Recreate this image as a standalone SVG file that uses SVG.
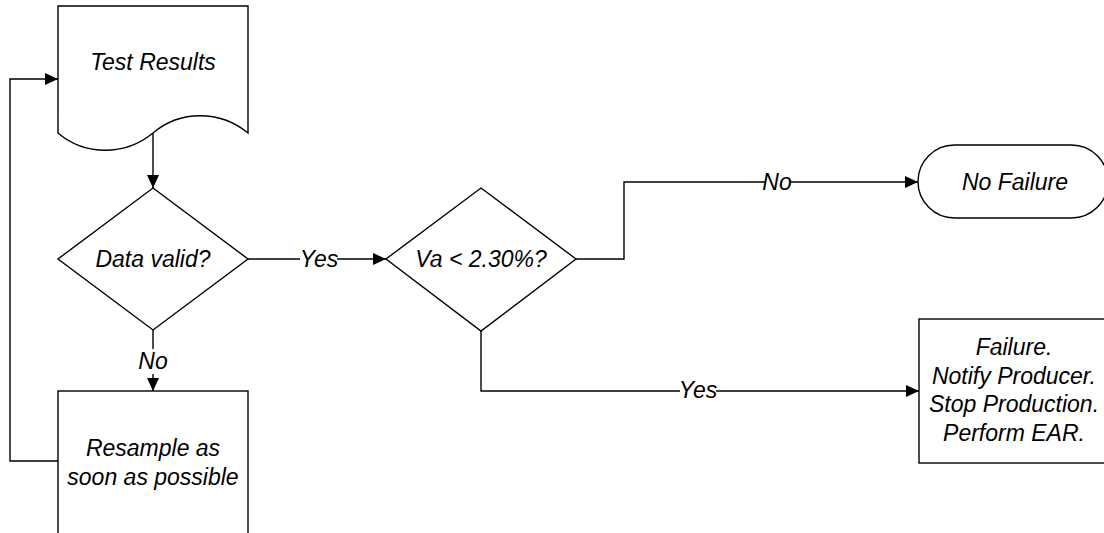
<svg xmlns="http://www.w3.org/2000/svg" width="1104" height="533" viewBox="0 0 1104 533">
<defs>
<marker id="arr" markerUnits="userSpaceOnUse" markerWidth="14" markerHeight="12" refX="13" refY="6" orient="auto">
<path d="M0,0 L13,6 L0,12 Z" fill="#000"/>
</marker>
<style>
.shape{fill:#fff;stroke:#000;stroke-width:1.4}
.conn{fill:none;stroke:#000;stroke-width:1.4}
text{font-family:"Liberation Sans",Arial,sans-serif;font-style:italic;font-size:23px;fill:#000;text-anchor:middle}
.lblbg{fill:#fff;stroke:none}
</style>
</defs>
<rect width="1104" height="533" fill="#fff"/>
<g id="connectors">
<path class="conn" d="M153,133 V188" marker-end="url(#arr)"/>
<path class="conn" d="M248,259 H386" marker-end="url(#arr)"/>
<path class="conn" d="M153,330 V391" marker-end="url(#arr)"/>
<path class="conn" d="M58,461 H10 V79 H58" marker-end="url(#arr)"/>
<path class="conn" d="M576,259 H624 V182 H918" marker-end="url(#arr)"/>
<path class="conn" d="M481,331 V391 H919" marker-end="url(#arr)"/>
<rect class="lblbg" x="300" y="248" width="37" height="23"/>
<text x="319" y="267">Yes</text>
<rect class="lblbg" x="139" y="349" width="28" height="25"/>
<text x="153" y="369">No</text>
<rect class="lblbg" x="765" y="171" width="25" height="23"/>
<text x="777" y="190">No</text>
<rect class="lblbg" x="680" y="380" width="36" height="23"/>
<text x="698" y="398">Yes</text>
</g>
<g id="test-results">
<path class="shape" d="M58,6 H248 V133 C220,110 180,110 153,133 C125,156 85,156 58,133 Z"/>
<text x="153" y="70">Test Results</text>
</g>
<g id="data-valid">
<path class="shape" d="M153,188 L248,259 L153,330 L58,259 Z"/>
<text x="153" y="267">Data valid?</text>
</g>
<g id="resample">
<rect class="shape" x="58" y="391" width="190" height="144"/>
<text x="153" y="456">Resample as</text>
<text x="153" y="485">soon as possible</text>
</g>
<g id="va-check">
<path class="shape" d="M481,188 L576,259 L481,331 L386,259 Z"/>
<text x="481" y="267">Va &lt; 2.30%?</text>
</g>
<g id="no-failure">
<rect class="shape" x="918" y="145" width="190" height="73" rx="36.5" ry="36.5"/>
<text x="1015" y="190">No Failure</text>
</g>
<g id="failure">
<rect class="shape" x="919" y="319" width="190" height="144"/>
<text x="1014" y="355">Failure.</text>
<text x="1014" y="383.5">Notify Producer.</text>
<text x="1014" y="412">Stop Production.</text>
<text x="1014" y="440.5">Perform EAR.</text>
</g>
</svg>
